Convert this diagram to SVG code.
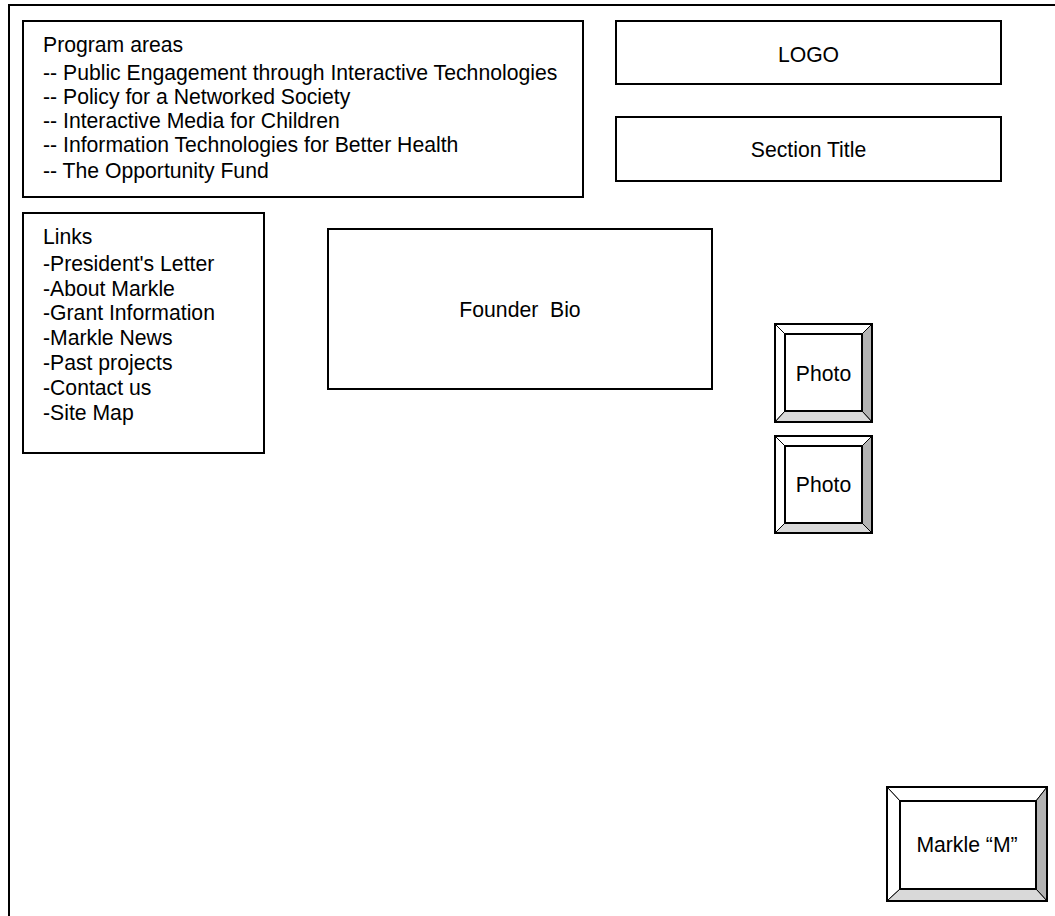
<svg xmlns="http://www.w3.org/2000/svg" width="1055" height="916" viewBox="0 0 1055 916">
<style>
  .box { fill: #ffffff; stroke: #000000; stroke-width: 2; }
  .frame { fill: none; stroke: #000000; stroke-width: 2; }
  .line { fill: none; stroke: #000000; stroke-width: 2; }
  .bev { stroke: #000000; stroke-width: 1; }
  .lt { fill: #ffffff; }
  .rt { fill: #b3b3b3; }
  .bt { fill: #d9d9d9; }
  text { font-family: "Liberation Sans", Arial, sans-serif; font-size: 21.2px; fill: #000000; }
  .c { text-anchor: middle; }
</style>
<rect x="0" y="0" width="1055" height="916" fill="#ffffff"/>
<g id="page-frame">
  <path class="line" d="M9,916 V5 H1056"/>
</g>
<g id="program-areas">
  <rect class="box" x="23" y="21" width="560" height="176"/>
  <text x="43" y="52">Program areas</text>
  <text x="43" y="79.5">-- Public Engagement through Interactive Technologies</text>
  <text x="43" y="103.5">-- Policy for a Networked Society</text>
  <text x="43" y="128">-- Interactive Media for Children</text>
  <text x="43" y="152">-- Information Technologies for Better Health</text>
  <text x="43" y="177.5">-- The Opportunity Fund</text>
</g>
<g id="logo">
  <rect class="box" x="616" y="21" width="385" height="63"/>
  <text class="c" x="808.5" y="62">LOGO</text>
</g>
<g id="section-title">
  <rect class="box" x="616" y="117" width="385" height="64"/>
  <text class="c" x="808.5" y="157">Section Title</text>
</g>
<g id="links">
  <rect class="box" x="23" y="213" width="241" height="240"/>
  <text x="43" y="244">Links</text>
  <text x="43" y="271">-President's Letter</text>
  <text x="43" y="296">-About Markle</text>
  <text x="43" y="320">-Grant Information</text>
  <text x="43" y="345">-Markle News</text>
  <text x="43" y="370">-Past projects</text>
  <text x="43" y="395">-Contact us</text>
  <text x="43" y="420">-Site Map</text>
</g>
<g id="founder-bio">
  <rect class="box" x="328" y="229" width="384" height="160"/>
  <text class="c" x="520" y="317" xml:space="preserve">Founder  Bio</text>
</g>
<g id="photo-1">
  <polygon class="bev lt" points="775,324 872,324 862,334 785,334"/>
  <polygon class="bev lt" points="775,324 785,334 785,411 775,422"/>
  <polygon class="bev rt" points="872,324 872,422 862,411 862,334"/>
  <polygon class="bev bt" points="775,422 785,411 862,411 872,422"/>
  <rect class="frame" x="775" y="324" width="97" height="98"/>
  <rect class="box" x="785" y="334" width="77" height="77"/>
  <text class="c" x="823.5" y="381">Photo</text>
</g>
<g id="photo-2">
  <polygon class="bev lt" points="775,436 872,436 862,446 785,446"/>
  <polygon class="bev lt" points="775,436 785,446 785,523 775,533"/>
  <polygon class="bev rt" points="872,436 872,533 862,523 862,446"/>
  <polygon class="bev bt" points="775,533 785,523 862,523 872,533"/>
  <rect class="frame" x="775" y="436" width="97" height="97"/>
  <rect class="box" x="785" y="446" width="77" height="77"/>
  <text class="c" x="823.5" y="492">Photo</text>
</g>
<g id="markle-m">
  <polygon class="bev lt" points="887,787 1047,787 1036,801 900,801"/>
  <polygon class="bev lt" points="887,787 900,801 900,889 887,901"/>
  <polygon class="bev rt" points="1047,787 1047,901 1036,889 1036,801"/>
  <polygon class="bev bt" points="887,901 900,889 1036,889 1047,901"/>
  <rect class="frame" x="887" y="787" width="160" height="114"/>
  <rect class="box" x="900" y="801" width="136" height="88"/>
  <text class="c" x="967" y="852">Markle “M”</text>
</g>
<g id="connectors"></g>
</svg>
